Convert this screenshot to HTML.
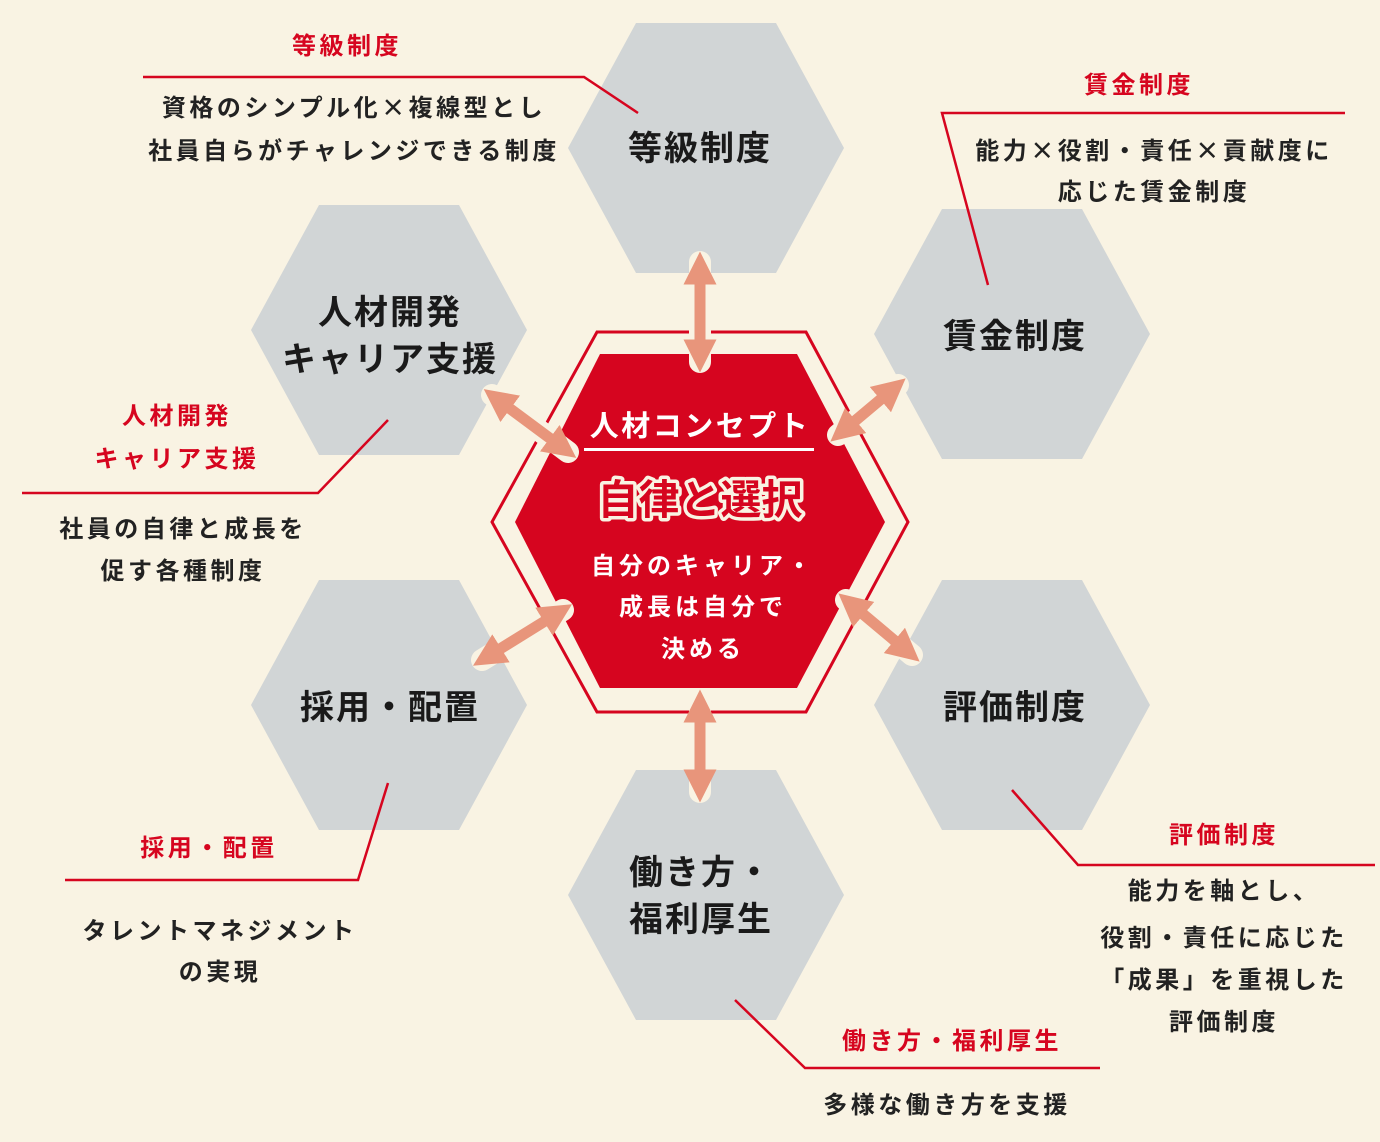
<!DOCTYPE html>
<html><head><meta charset="utf-8"><style>
html,body{margin:0;padding:0;background:#f9f3e3;}
svg{display:block;}
text{font-family:"Noto Sans CJK JP","Liberation Sans",sans-serif;font-weight:bold;}
</style></head><body>
<svg width="1380" height="1142" viewBox="0 0 1380 1142" xmlns="http://www.w3.org/2000/svg">
<rect width="1380" height="1142" fill="#f9f3e3"/>
<defs>
<polygon id="hx" points="-138,0 -70,-125 70,-125 138,0 70,125 -70,125" fill="#d1d5d6"/>
<marker id="ah" viewBox="0 0 10 10" refX="5" refY="5" markerWidth="3" markerHeight="3" orient="auto-start-reverse"><path d="M0,0 L10,5 L0,10 z" fill="#e8957b"/></marker>
</defs>
<use href="#hx" x="706" y="148"/>
<use href="#hx" x="1012" y="334"/>
<use href="#hx" x="389" y="330"/>
<use href="#hx" x="389" y="705"/>
<use href="#hx" x="1012" y="705"/>
<use href="#hx" x="706" y="895"/>

<polygon points="492,522 597,332 806,332 908,522 806,712 597,712" fill="#f9f3e3" stroke="#d6051f" stroke-width="3"/>
<polygon points="515,522 600,354 797,354 885,522 797,688 600,688" fill="#d6051f"/>

<g stroke="#f9f3e3" stroke-width="22" stroke-linecap="round" fill="none">
<line x1="700" y1="262" x2="700" y2="362"/>
<line x1="700" y1="700" x2="700" y2="792"/>
<line x1="492" y1="395" x2="568" y2="452"/>
<line x1="898" y1="385" x2="838" y2="435"/>
<line x1="482" y1="660" x2="563" y2="610"/>
<line x1="846" y1="600" x2="912" y2="655"/>
</g>
<g stroke="#e8957b" stroke-width="11" fill="none" marker-start="url(#ah)" marker-end="url(#ah)">
<line x1="700" y1="268" x2="700" y2="356"/>
<line x1="700" y1="706" x2="700" y2="786"/>
<line x1="497" y1="399" x2="563" y2="448"/>
<line x1="893" y1="389" x2="843" y2="431"/>
<line x1="487" y1="657" x2="558" y2="613"/>
<line x1="851" y1="604" x2="907" y2="651"/>
</g>

<g fill="#fff" text-anchor="middle">
<text x="700" y="436" font-size="29" letter-spacing="2.5">人材コンセプト</text>
<rect x="584" y="448" width="230" height="3" fill="#fff"/>
<text x="700" y="514" font-size="41" stroke="#f9f3e3" stroke-width="7" stroke-linejoin="round" fill="#f9f3e3">自律と選択</text>
<text x="700" y="514" font-size="41" fill="#d6051f">自律と選択</text>
<text x="703" y="574" font-size="24" letter-spacing="4">自分のキャリア・</text>
<text x="703" y="615" font-size="24" letter-spacing="4">成長は自分で</text>
<text x="703" y="657" font-size="24" letter-spacing="4">決める</text>
</g>

<g fill="#1a1a1a" text-anchor="middle" font-size="34" letter-spacing="2">
<text x="700" y="160">等級制度</text>
<text x="1015" y="348">賃金制度</text>
<text x="390" y="324">人材開発</text>
<text x="390" y="371">キャリア支援</text>
<text x="390" y="719">採用・配置</text>
<text x="1015" y="719">評価制度</text>
<text x="701" y="884">働き方・</text>
<text x="701" y="931">福利厚生</text>
</g>

<g stroke="#d6051f" stroke-width="2.5" fill="none">
<polyline points="143,77 584,77 638,113"/>
<polyline points="1345,113 942,113 988,285"/>
<polyline points="22,493 318,493 388,420"/>
<polyline points="65,880 358,880 388,783"/>
<polyline points="1012,790 1078,865 1375,865"/>
<polyline points="735,1000 805,1068 1100,1068"/>
</g>

<g fill="#d6051f" text-anchor="middle" font-size="24" letter-spacing="3.5">
<text x="347" y="54">等級制度</text>
<text x="1139" y="93">賃金制度</text>
<text x="177" y="424">人材開発</text>
<text x="177" y="467">キャリア支援</text>
<text x="209" y="856">採用・配置</text>
<text x="1224" y="843">評価制度</text>
<text x="952" y="1049">働き方・福利厚生</text>
</g>
<g fill="#222" text-anchor="middle" font-size="24" letter-spacing="3.5">
<text x="354" y="116">資格のシンプル化×複線型とし</text>
<text x="354" y="159">社員自らがチャレンジできる制度</text>
<text x="1154" y="159">能力×役割・責任×貢献度に</text>
<text x="1154" y="200">応じた賃金制度</text>
<text x="183" y="537">社員の自律と成長を</text>
<text x="183" y="579">促す各種制度</text>
<text x="220" y="939">タレントマネジメント</text>
<text x="220" y="980">の実現</text>
<text x="1224" y="899">能力を軸とし、</text>
<text x="1224" y="946">役割・責任に応じた</text>
<text x="1224" y="988">「成果」を重視した</text>
<text x="1224" y="1030">評価制度</text>
<text x="947" y="1113">多様な働き方を支援</text>
</g>
</svg>
</body></html>
